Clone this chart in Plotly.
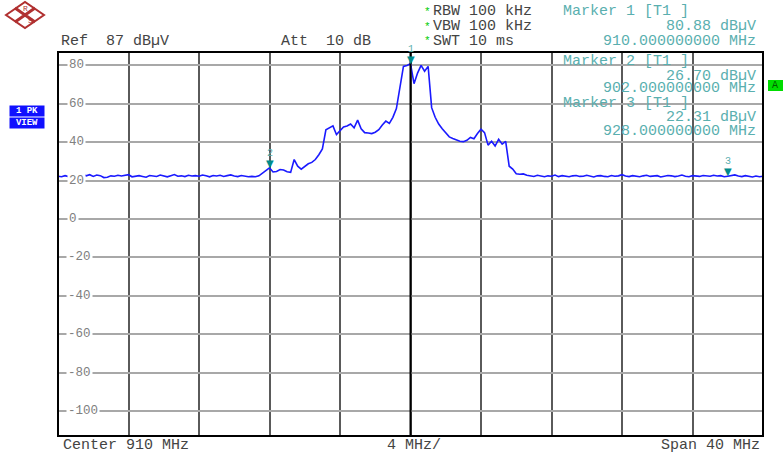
import numpy as np
import plotly.graph_objects as go

# ---------------- data ----------------
start_mhz = 890.0
step_mhz = 0.2
level_dbuv = [
    # 890.0 - 901.0
    22.3, 22.0, 22.6, 22.1, 23.0, 22.4, 22.8, 23.3, 22.5, 23.1,
    22.2, 22.9, 22.6, 21.6, 21.8, 22.5, 22.3, 22.8, 22.4, 22.9,
    23.1, 22.0, 22.4, 22.6, 22.2, 21.8, 22.7, 22.5, 22.2, 22.9,
    22.4, 22.0, 22.6, 23.2, 22.3, 22.5, 22.1, 22.8, 22.4, 22.6,
    22.3, 22.9, 22.5, 22.0, 22.7, 22.4, 22.8, 22.2, 22.6, 23.0,
    22.4, 22.1, 22.7, 22.3, 22.0, 22.2,
    # 901.2 - 916.6
    22.0, 22.5, 23.8, 25.2, 26.7, 24.5, 24.8, 25.8, 25.5, 24.6,
    24.3, 31.0, 27.5, 26.0, 27.2, 28.8, 29.5, 31.0, 33.5, 36.5,
    46.5, 47.5, 48.5, 44.0, 46.0, 48.0, 48.5, 49.5, 47.5, 51.5,
    47.0, 45.0, 44.8, 44.5, 45.2, 46.5, 49.0, 51.0, 49.8, 53.0,
    57.5, 68.0, 79.5, 80.0, 80.88, 70.5, 76.0, 80.0, 77.0, 79.5,
    58.0, 53.0, 49.5, 47.0, 45.0, 42.8, 42.0, 41.3, 40.5, 40.3,
    41.0, 42.5, 41.8, 44.5, 46.8, 45.0, 38.5, 40.5, 38.0, 41.5,
    39.0, 40.5, 27.5, 26.0, 23.6, 23.3, 23.5, 22.8,
    # 916.8 - 930.0
    22.6, 22.2, 22.8, 22.4, 22.0, 22.5, 22.3, 22.9, 22.1, 22.6,
    22.4, 22.0, 22.5, 22.7, 22.2, 22.3, 22.8, 22.4, 21.9, 22.5,
    22.6, 22.2, 22.0, 22.7, 22.3, 22.5, 23.1, 22.4, 22.1, 22.6,
    22.3, 22.0, 22.5, 22.8, 22.2, 22.4, 22.6, 21.9, 22.3, 22.7,
    22.5, 22.1, 22.4, 22.9, 22.3, 22.0, 22.6, 22.4, 22.2, 22.7,
    22.5, 22.3, 22.8, 22.4, 22.6, 22.0, 22.31, 22.5, 23.0, 22.4,
    22.1, 22.6, 22.2, 21.9, 22.4, 22.0, 22.3,
]
freq_mhz = start_mhz + step_mhz * np.arange(len(level_dbuv))

marker_names = ["1", "2", "3"]
marker_freq = [910.0, 902.0, 928.0]
marker_level = [80.88, 26.70, 22.31]

y_ticks = [80, 60, 40, 20, 0, -20, -40, -60, -80, -100]
ref_level = 87
x_span = [890, 930]

# ---------------- geometry helpers ----------------
W, H = 783, 455
L, R, T, B = 58, 20, 52, 19


def px(x):
    return (x - L) / (W - L - R)


def py(y):
    return (H - B - y) / (H - T - B)


MONO = "Liberation Mono"
fig = go.Figure()

fig.add_trace(go.Scatter(
    x=freq_mhz, y=level_dbuv, mode="lines",
    line=dict(color="#1a1aff", width=1.6), hoverinfo="skip", showlegend=False,
))

shapes = []
# darker lower gridlines
for v in y_ticks:
    if v <= -40:
        shapes.append(dict(type="line", xref="paper", yref="y", x0=0, x1=1, y0=v, y1=v,
                           line=dict(color="#4a4a4a", width=1), layer="below"))
# centre line
shapes.append(dict(type="line", xref="x", yref="paper", x0=910, x1=910, y0=0, y1=1,
                   line=dict(color="#000000", width=2)))
# frame
shapes.append(dict(type="rect", xref="paper", yref="paper", x0=0, x1=1, y0=0, y1=1,
                   line=dict(color="#000000", width=2)))
# logo (R&S diamond)
shapes.append(dict(type="path", xref="paper", yref="paper",
                   path=f"M {px(6)} {py(15)} L {px(25)} {py(2)} L {px(44)} {py(15)} L {px(25)} {py(28)} Z",
                   line=dict(color="#b03030", width=2), fillcolor="rgba(0,0,0,0)"))
shapes.append(dict(type="path", xref="paper", yref="paper",
                   path=f"M {px(15)} {py(8)} L {px(35)} {py(22)} M {px(15)} {py(22)} L {px(35)} {py(8)}",
                   line=dict(color="#b03030", width=3)))
# green box right
shapes.append(dict(type="rect", xref="paper", yref="paper", x0=px(768), x1=px(790), y0=py(91), y1=py(80),
                   line=dict(width=0), fillcolor="#00dd00"))
fig.update_layout(shapes=shapes)

ann = []


def text(x, y, s, color="#444444", size=15, xanchor="left", **kw):
    ann.append(dict(x=px(x), y=py(y), xref="paper", yref="paper", text=s, showarrow=False,
                    xanchor=xanchor, yanchor="middle", font=dict(family=MONO, size=size, color=color), **kw))


# y tick labels inside plot
for v in y_ticks:
    ann.append(dict(x=px(66 if v < 0 else 67), y=v, xref="paper", yref="y", text=str(v), showarrow=False,
                    xanchor="left", yanchor="middle", bgcolor="#ffffff", borderpad=1,
                    font=dict(family=MONO, size=12.5, color="#808080")))

# header
text(59, 41, f"Ref  {ref_level} dBµV")
text(279, 41, "Att  10 dB")
for yy, s in [(12, "RBW 100 kHz"), (27, "VBW 100 kHz"), (41, "SWT 10 ms")]:
    text(422, yy, "*", color="#00cc00", size=11)
    text(431, yy, s)
teal = "#5aafaf"
text(561, 12, "Marker 1 [T1 ]", color=teal)
text(758, 27, f"{marker_level[0]:.2f} dBµV", color=teal, xanchor="right")
text(758, 41, f"{marker_freq[0]:.9f} MHz", color=teal, xanchor="right")
text(561, 62, "Marker 2 [T1 ]", color=teal)
text(758, 76, f"{marker_level[1]:.2f} dBµV", color=teal, xanchor="right")
text(758, 89, f"{marker_freq[1]:.9f} MHz", color=teal, xanchor="right")
text(561, 104, "Marker 3 [T1 ]", color=teal)
text(758, 117, f"{marker_level[2]:.2f} dBµV", color=teal, xanchor="right")
text(758, 131, f"{marker_freq[2]:.9f} MHz", color=teal, xanchor="right")

# bottom
text(61, 445, f"Center {(x_span[0] + x_span[1]) // 2} MHz")
text(385, 445, f"{(x_span[1] - x_span[0]) // 10} MHz/")
text(762, 445, f"Span {x_span[1] - x_span[0]} MHz", xanchor="right")

# left blue boxes
for yy, s in [(111, "1 PK"), (123, "VIEW")]:
    ann.append(dict(x=px(9), y=py(yy), xref="paper", yref="paper", text=f"<b>{s}</b>", showarrow=False,
                    xanchor="left", yanchor="middle", bgcolor="#1010ff", borderpad=0, width=34, height=10,
                    font=dict(family=MONO, size=9, color="#ffffff")))
# green box label
text(770, 85.5, "A", color="#006000", size=10)
# logo letters
text(21, 8, "R", color="#b03030", size=8)
text(26, 21, "S", color="#b03030", size=8)

# markers
for n, f, v in zip(marker_names, marker_freq, marker_level):
    ann.append(dict(x=f, y=v, xref="x", yref="y", text="▼", showarrow=False, xanchor="center",
                    yanchor="bottom", yshift=-3, font=dict(family="DejaVu Sans", size=10, color="#008b8b")))
    ann.append(dict(x=f, y=v, xref="x", yref="y", text=n, showarrow=False, xanchor="center",
                    yanchor="bottom", yshift=7, font=dict(family=MONO, size=10, color="#5aafaf")))

fig.update_layout(
    annotations=ann,
    width=W, height=H,
    margin=dict(l=L, r=R, t=T, b=B, pad=0),
    paper_bgcolor="#ffffff", plot_bgcolor="#ffffff",
    xaxis=dict(range=x_span, tick0=x_span[0], dtick=4, showgrid=True, gridcolor="#5a5a5a", gridwidth=1.5,
               showticklabels=False, zeroline=False, showline=False, ticks="", fixedrange=True),
    yaxis=dict(range=[ref_level - 200, ref_level], tickvals=y_ticks, showgrid=True, gridcolor="#a8a8a8",
               gridwidth=2, showticklabels=False, zeroline=False, showline=False, ticks="", fixedrange=True),
    showlegend=False,
)

fig.write_html("out.html", config={"displayModeBar": False},
               post_script="document.body.style.margin='0';document.body.style.overflow='hidden';")
